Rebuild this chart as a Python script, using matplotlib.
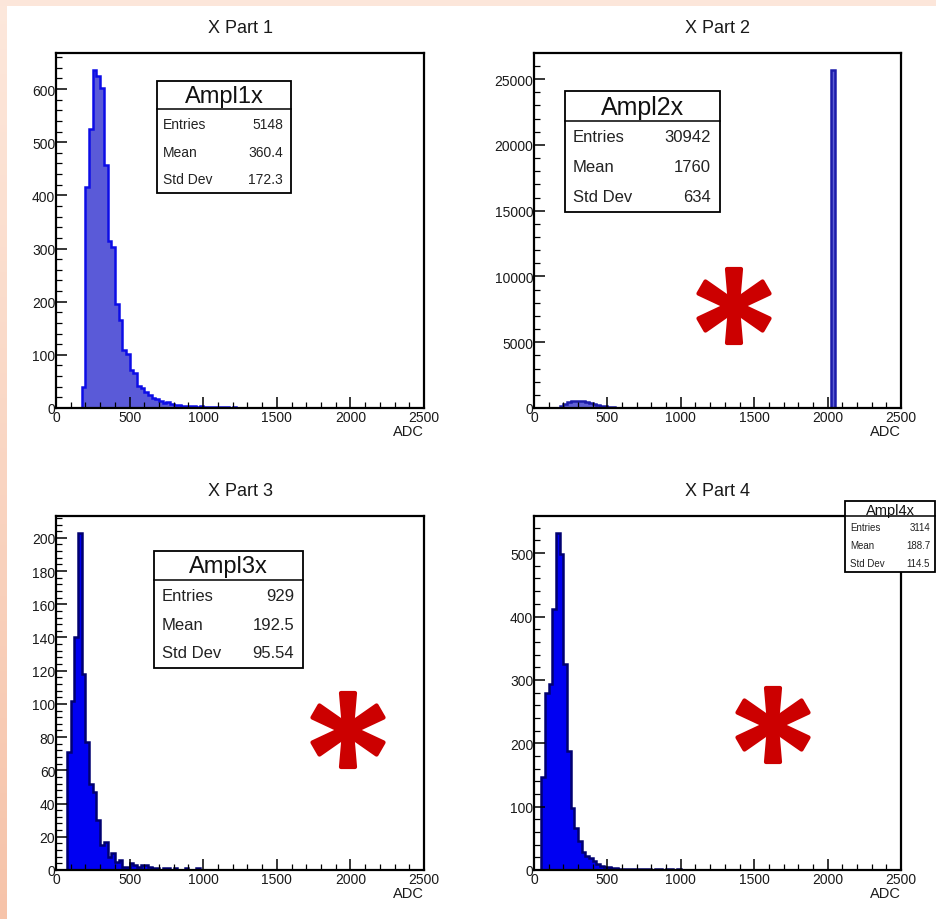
import matplotlib

matplotlib.use("Agg")
import matplotlib.pyplot as plt
import numpy as np
from matplotlib.patches import Polygon, Rectangle
from matplotlib.ticker import MultipleLocator

W, H = 936, 920
plt.rcParams["font.family"] = ["Liberation Sans", "DejaVu Sans"]

# 100 bins of 25 ADC over 0..2500
BIN_W = 25
EDGES = np.arange(0, 2500 + BIN_W, BIN_W)

titles = ["X Part 1", "X Part 2", "X Part 3", "X Part 4"]
hist_names = ["Ampl1x", "Ampl2x", "Ampl3x", "Ampl4x"]
entries = ["5148", "30942", "929", "3114"]
means = ["360.4", "1760", "192.5", "188.7"]
std_devs = ["172.3", "634", "95.54", "114.5"]

# bin contents, each run starts at the given ADC value
part1_start = 175
part1_counts = [40, 415, 525, 636, 624, 602, 457, 315, 302, 195, 166, 110, 102, 72,
                66, 42, 38, 30, 24, 19, 17, 14, 10, 12, 8, 6, 5, 4, 3, 3, 4, 2, 3,
                2, 2, 1, 2, 1, 1, 1, 0, 1]
part2_start = 175
part2_counts = [120, 330, 440, 510, 550, 560, 540, 480, 410, 330, 250, 180, 120,
                80, 50, 30, 15, 8]
part2_spike_adc = 2025
part2_spike = 25700
part3_start = 75
part3_counts = [71, 102, 140, 203, 118, 77, 52, 47, 30, 15, 17, 8, 10, 5, 6, 2, 2,
                4, 3, 2, 3, 3, 2, 1, 1, 0, 1, 1, 0, 1, 0, 0, 1, 0, 0, 1]
part4_start = 50
part4_counts = [146, 280, 293, 412, 532, 499, 325, 188, 98, 67, 45, 28, 22, 19, 14,
                9, 6, 4, 4, 3, 3, 2, 2, 2, 1, 1, 2, 1, 1, 1, 0, 1, 1, 0, 1, 1, 0, 1]


def full_hist(start, counts):
    h = np.zeros(len(EDGES) - 1)
    i = start // BIN_W
    h[i:i + len(counts)] = counts
    return h


h1 = full_hist(part1_start, part1_counts)
h2 = full_hist(part2_start, part2_counts)
h2[part2_spike_adc // BIN_W] = part2_spike
h3 = full_hist(part3_start, part3_counts)
h4 = full_hist(part4_start, part4_counts)
hists = [h1, h2, h3, h4]

# pixel frames of the four pads (x0, y0, x1, y1), y measured from the top
frames = [(56, 54, 424, 409), (534, 54, 901, 409),
          (56, 517, 424, 871), (534, 517, 901, 871)]
y_ticks = [(100, 20), (5000, 1000), (20, 4), (100, 20)]
fills = ["#5a5ad8", "#6060d6", "#0000f2", "#0000f2"]
edges = ["#0d0de6", "#1c1caa", "#000070", "#000070"]

fig = plt.figure(figsize=(W / 100, H / 100), dpi=100)
fig.patch.set_facecolor("white")

for k, (x0, y0, x1, y1) in enumerate(frames):
    ax = fig.add_axes([x0 / W, 1 - y1 / H, (x1 - x0) / W, (y1 - y0) / H])
    h = hists[k]
    ax.stairs(h, EDGES, fill=True, color=fills[k], lw=0)
    ax.stairs(h, EDGES, color=edges[k], lw=1.8, baseline=0)
    ax.set_xlim(0, 2500)
    ax.set_ylim(0, h.max() * 1.05)
    ax.xaxis.set_major_locator(MultipleLocator(500))
    ax.xaxis.set_minor_locator(MultipleLocator(100))
    ax.yaxis.set_major_locator(MultipleLocator(y_ticks[k][0]))
    ax.yaxis.set_minor_locator(MultipleLocator(y_ticks[k][1]))
    ax.tick_params(which="both", direction="in", top=False, right=False,
                   colors="black", labelcolor="#1a1a1a", labelsize=10)
    ax.tick_params(which="major", length=8, width=1.1, pad=1.5)
    ax.tick_params(which="minor", length=4, width=0.9)
    ax.tick_params(axis="y", which="major", pad=0.5)
    for spine in ax.spines.values():
        spine.set_linewidth(1.6)
        spine.set_color("black")
    ax.set_xlabel("ADC", loc="right", fontsize=10.5, labelpad=0, color="#1a1a1a")
    ax.set_title(titles[k], fontsize=13, pad=15, color="#1a1a1a")

# overlay in pixel coordinates for the stats boxes, stars and page border
ov = fig.add_axes([0, 0, 1, 1])
ov.set_zorder(10)
ov.patch.set_alpha(0)
ov.axis("off")

grad = np.linspace(0, 1, 256)[:, None]
peach = matplotlib.colors.LinearSegmentedColormap.from_list(
    "peach", ["#fde8dc", "#f6c3a9"])
ov.imshow(grad, cmap=peach, extent=(0, 7, H, 0), aspect="auto")
ov.add_patch(Rectangle((0, 0), W, 7, color="#fce6da", lw=0))

# stats boxes: (x0, y0, x1, y1), divider y, header size, body size,
# row ys, label x, value x
boxes = [
    ((157, 82, 291, 194), 110, 17, 10, (125, 153, 180), 163, 283),
    ((565, 92, 720, 213), 122, 18, 12, (137, 168, 198), 573, 711),
    ((154, 552, 303, 669), 581, 17, 12, (597, 626, 654), 162, 294),
    ((845, 502, 935, 573), 517, 10.5, 7, (528, 546, 564), 850, 930),
]
for k, (rect, div, fs_h, fs_b, rows, lx, vx) in enumerate(boxes):
    x0, y0, x1, y1 = rect
    ov.add_patch(Rectangle((x0, y0), x1 - x0, y1 - y0, facecolor="white",
                           edgecolor="black", lw=1.3))
    ov.plot([x0, x1], [div, div], color="black", lw=1.1)
    ov.text((x0 + x1) / 2, (y0 + div) / 2 + 1, hist_names[k], fontsize=fs_h,
            ha="center", va="center", color="#111111")
    labels = ["Entries", "Mean", "Std Dev"]
    values = [entries[k], means[k], std_devs[k]]
    for lab, val, ry in zip(labels, values, rows):
        ov.text(lx, ry, lab, fontsize=fs_b, ha="left", va="center", color="#222222")
        ov.text(vx, ry, val, fontsize=fs_b, ha="right", va="center", color="#222222")

# red six-armed stars
star_centers = [(734, 307), (348, 731), (773, 726)]
for cx, cy in star_centers:
    for ang in (90, 30, -30, -90, -150, 150):
        a = np.deg2rad(ang)
        d = np.array([np.cos(a), -np.sin(a)])
        p = np.array([-d[1], d[0]])
        c = np.array([cx, cy])
        L, w0, w1 = 37, 3.8, 7.0
        pts = [c + p * w0, c + d * L + p * w1, c + d * L - p * w1, c - p * w0]
        ov.add_patch(Polygon(pts, closed=True, facecolor="#cc0000",
                             edgecolor="#cc0000", lw=3, joinstyle="round"))

ov.set_xlim(0, W)
ov.set_ylim(H, 0)

fig.savefig("out.png", dpi=100, facecolor="white")
plt.close(fig)
